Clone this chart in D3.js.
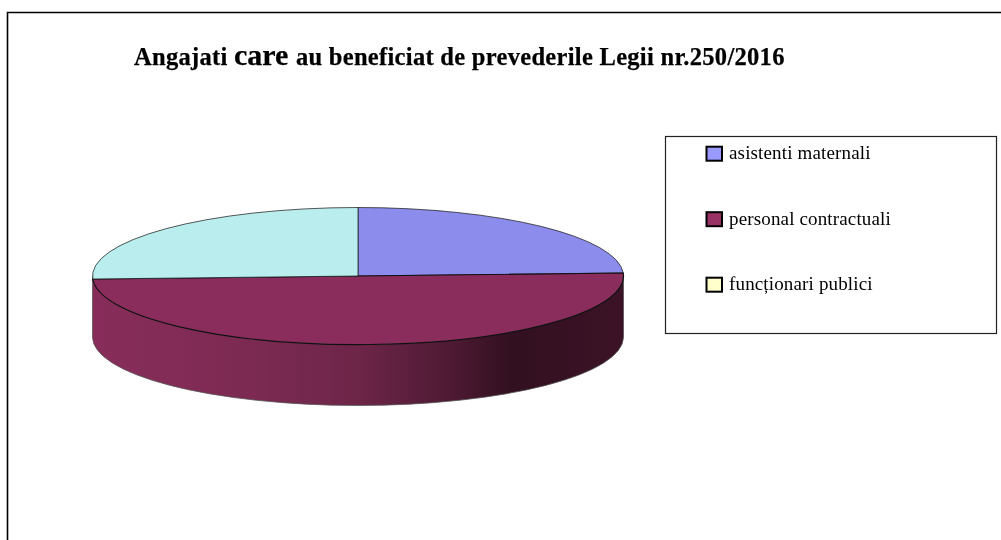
<!DOCTYPE html>
<html>
<head>
<meta charset="utf-8">
<script src="https://cdn.jsdelivr.net/npm/d3@7"></script>
<style>
  html, body { margin: 0; padding: 0; background: #fff; overflow: hidden; }
  svg { filter: blur(0.4px); } /* the reference is a soft screenshot */
  text { font-family: "Liberation Serif", serif; fill: #000; }
</style>
</head>
<body>
<div id="chart"></div>
<script>
// chart values
const categories = ['asistenti maternali', 'personal contractuali', 'funcționari  publici'];
const values = [24.3, 50, 25.7];
const sliceColors = ['#8c8cec', '#8a2d5c', '#baeded'];
const legendColors = ['#9999ff', '#993366', '#ffffcc'];

// side wall shading, left to right
const wallOffsets = [0, 0.3, 0.5, 0.67, 0.79, 1];
const wallColors = ['#882d5b', '#7c2a52', '#6d2548', '#4f1a34', '#321020', '#3c1326'];

const width = 1001, height = 540;
const cx = 358, cy = 276, rx = 265.5, ry = 68.5, depth = 61;

const svg = d3.select('#chart').append('svg')
    .attr('width', width)
    .attr('height', height)
    .style('display', 'block');

// outer frame, runs off the page bottom
svg.append('path')
    .attr('d', 'M7.5,' + height + 'V12.5H' + width)
    .attr('fill', 'none')
    .attr('stroke', '#000')
    .attr('stroke-width', 1.6);

// title
const title = svg.append('text')
    .attr('x', 134)
    .attr('y', 65)
    .attr('font-weight', 'bold')
    .attr('font-size', 24.5)
    .attr('letter-spacing', 0.3)
    .attr('stroke', '#000')
    .attr('stroke-width', 0.25);
title.append('tspan').text('Angajati ');
title.append('tspan')
    .attr('font-size', 30)
    .attr('letter-spacing', 0)
    .text('care ');
title.append('tspan').text('au beneficiat de prevederile Legii nr.250/2016');

// wall gradient
const grad = svg.append('defs').append('linearGradient')
    .attr('id', 'wall')
    .attr('gradientUnits', 'userSpaceOnUse')
    .attr('x1', cx - rx).attr('x2', cx + rx)
    .attr('y1', 0).attr('y2', 0);
grad.selectAll('stop')
    .data(wallOffsets)
  .join('stop')
    .attr('offset', d => d)
    .attr('stop-color', (d, i) => wallColors[i]);

// side wall of the disc
svg.append('path')
    .attr('d', `M${cx - rx},${cy}V${cy + depth}A${rx},${ry} 0 0 0 ${cx + rx},${cy + depth}V${cy}A${rx},${ry} 0 0 1 ${cx - rx},${cy}Z`)
    .attr('fill', 'url(#wall)')
    .attr('stroke', '#555')
    .attr('stroke-width', 0.8);

// top of the disc
const pie = d3.pie().sort(null);
const arc = d3.arc().innerRadius(0).outerRadius(rx);

svg.append('g')
    .attr('transform', `translate(${cx},${cy}) scale(1,${ry / rx})`)
  .selectAll('path')
    .data(pie(values))
  .join('path')
    .attr('d', arc)
    .attr('fill', (d, i) => sliceColors[i])
    .attr('stroke', '#111')
    .attr('stroke-width', (d, i) => i === 1 ? 1.2 : 0.7)
    .attr('vector-effect', 'non-scaling-stroke');

// legend
svg.append('rect')
    .attr('x', 665.5).attr('y', 136.5)
    .attr('width', 331).attr('height', 197)
    .attr('fill', '#fff')
    .attr('stroke', '#222')
    .attr('stroke-width', 1.2);

const legendY = d3.scalePoint()
    .domain(categories)
    .range([153.7, 284.7]);

const legend = svg.selectAll('g.legend')
    .data(categories)
  .join('g')
    .attr('class', 'legend')
    .attr('transform', d => `translate(706,${legendY(d)})`);

legend.append('rect')
    .attr('x', 0.5).attr('y', -7)
    .attr('width', 15.5).attr('height', 14)
    .attr('fill', (d, i) => legendColors[i])
    .attr('stroke', '#000')
    .attr('stroke-width', 2);

legend.append('text')
    .attr('x', 23)
    .attr('y', 5.5)
    .attr('font-size', 19)
    .attr('letter-spacing', 0.15)
    .text(d => d);
</script>
</body>
</html>
